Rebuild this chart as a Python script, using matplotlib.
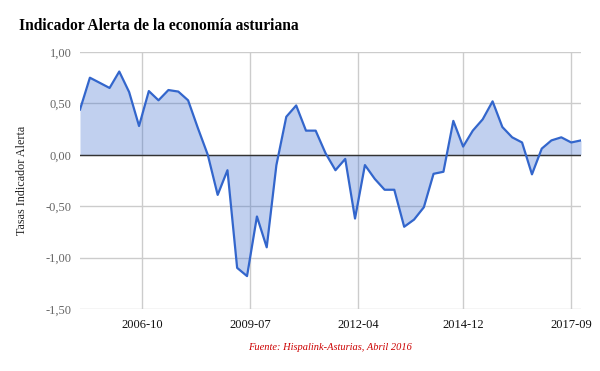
import pandas as pd
import numpy as np
import matplotlib.pyplot as plt
import matplotlib.dates as mdates

# Datos trimestrales (2005-03 a 2017-12)
fechas = pd.date_range('2005-03-01', periods=52, freq='3MS')
tasas = [0.44, 0.75, 0.70, 0.65, 0.81, 0.61, 0.28, 0.62, 0.53, 0.63,
         0.615, 0.53, 0.26, 0.00, -0.39, -0.15, -1.10, -1.18, -0.60, -0.90,
         -0.10, 0.37, 0.48, 0.235, 0.235, 0.015, -0.15, -0.04, -0.62, -0.10,
         -0.235, -0.34, -0.34, -0.70, -0.63, -0.51, -0.185, -0.165, 0.33, 0.08,
         0.235, 0.345, 0.52, 0.27, 0.17, 0.12, -0.19, 0.06, 0.14, 0.17,
         0.12, 0.14]

ticks_x = ['2006-10', '2009-07', '2012-04', '2014-12', '2017-09']
ticks_y = [-1.5, -1.0, -0.5, 0.0, 0.5, 1.0]

plt.rcParams['font.family'] = ['Liberation Serif', 'DejaVu Serif']

fig = plt.figure(figsize=(6, 3.71), dpi=100)
ax = fig.add_axes([80/600, 1 - 309/371, 501/600, 257/371])

color_linea = '#3366cc'
ax.fill_between(fechas, 0, tasas, color=color_linea, alpha=0.3, linewidth=0)
ax.plot(fechas, tasas, color=color_linea, linewidth=1.6, zorder=3)
ax.axhline(0, color='#333333', linewidth=1, zorder=2)

ax.set_xlim(fechas[0], fechas[-1])
ax.set_ylim(-1.5, 1.0)

ax.set_yticks(ticks_y)
ax.set_yticklabels([f'{v:.2f}'.replace('.', ',') for v in ticks_y], color='#666666', fontsize=9)
xt = [pd.Timestamp(t + '-01') for t in ticks_x]
ax.set_xticks(xt)
ax.set_xticklabels(ticks_x, color='#111111', fontsize=9)

ax.grid(True, color='#cccccc', linewidth=1)
ax.set_axisbelow(True)
ax.tick_params(length=0, pad=6)
ax.tick_params(axis='x', pad=7)
for s in ax.spines.values():
    s.set_visible(False)

ax.set_ylabel('Tasas Indicador Alerta', color='#222222', fontsize=8.7, labelpad=13)

fig.text(19/600, 1 - 26/371, 'Indicador Alerta de la economía asturiana',
         fontsize=11.2, fontweight='bold', va='center', ha='left')
fig.text(330/600, 1 - 347/371, 'Fuente: Hispalink-Asturias, Abril 2016',
         fontsize=7.5, style='italic', color='#cc0000', ha='center', va='center')

fig.savefig('out.png', dpi=100)
